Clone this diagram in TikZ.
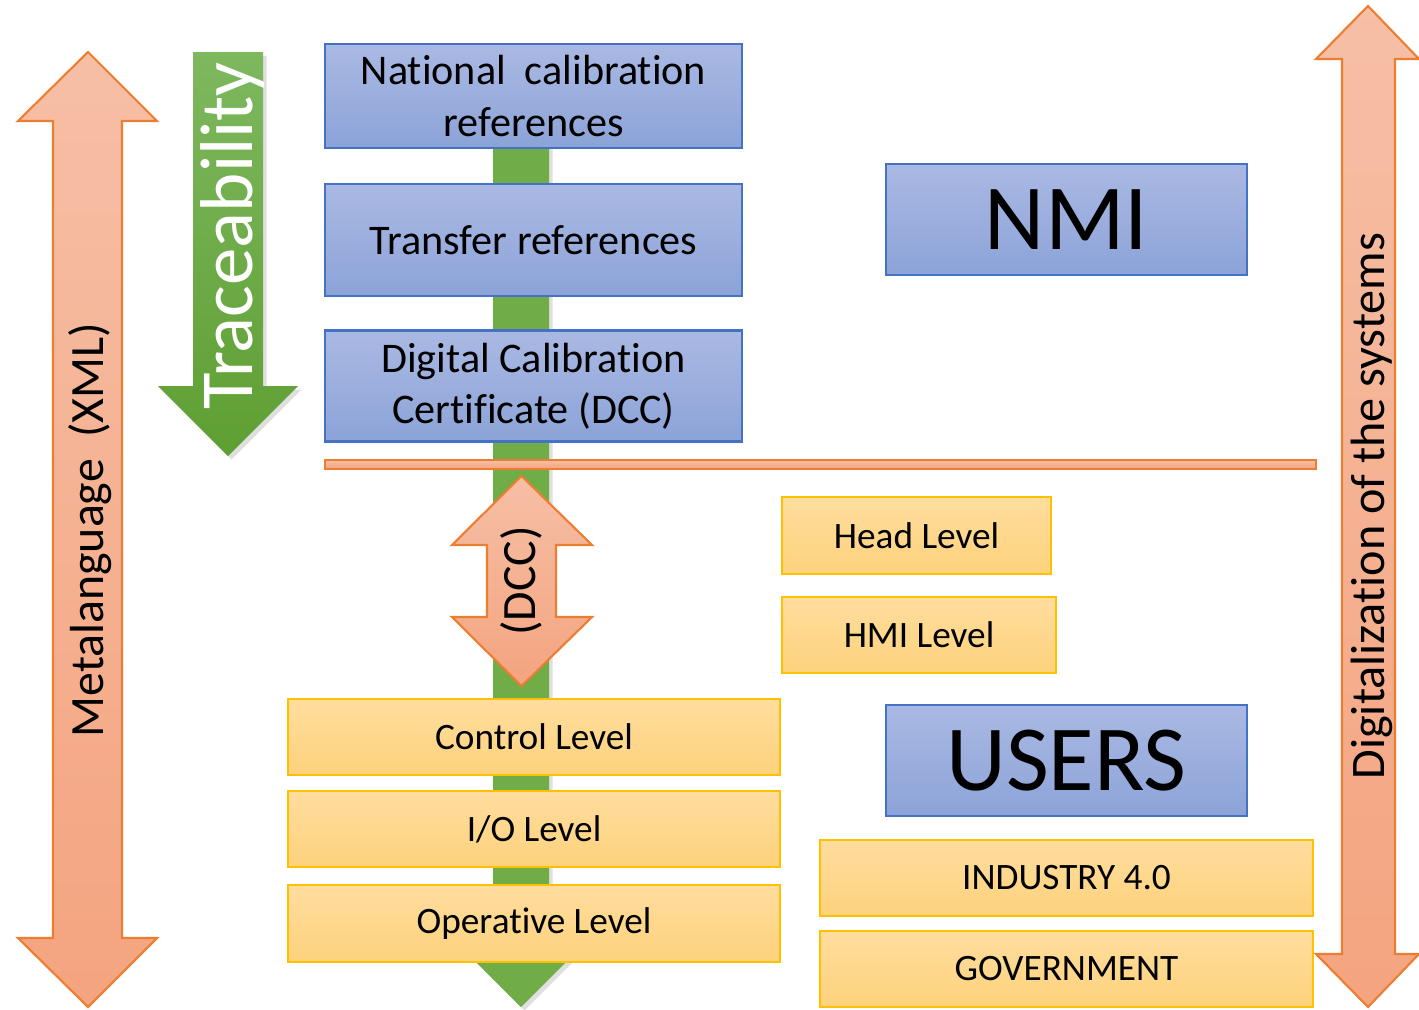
\documentclass[tikz,border=0pt]{standalone}
\usepackage{fontspec}
\setmainfont{Carlito}[Ligatures=NoCommon]
\usetikzlibrary{shadows}
\definecolor{nmiTop}{HTML}{AAB9E3}
\definecolor{nmiBot}{HTML}{8CA3D8}
\definecolor{nmiEdge}{HTML}{4472C4}
\definecolor{lvlTop}{HTML}{FFDD9E}
\definecolor{lvlBot}{HTML}{FDD27C}
\definecolor{lvlEdge}{HTML}{FFC000}
\definecolor{xmlTop}{HTML}{F6BFA6}
\definecolor{xmlBot}{HTML}{F4A47F}
\definecolor{xmlEdge}{HTML}{ED7D31}
\definecolor{traceTop}{HTML}{7EB85F}
\definecolor{traceBot}{HTML}{5E9F32}
\definecolor{traceBar}{HTML}{70AD47}
\tikzset{
  refbox/.style={draw=nmiEdge, line width=0.6pt, top color=nmiTop, bottom color=nmiBot,
    minimum width=4.17cm, align=center, inner sep=0pt,
    font=\fontsize{12}{14.6}\selectfont},
  bigbox/.style={draw=nmiEdge, line width=0.6pt, top color=nmiTop, bottom color=nmiBot,
    minimum width=3.61cm, minimum height=1.11cm, inner sep=0pt,
    font=\fontsize{26.5}{30}\selectfont},
  lvlbox/.style={draw=lvlEdge, line width=0.6pt, top color=lvlTop, bottom color=lvlBot,
    minimum height=0.76cm, inner sep=0pt, font=\fontsize{10.6}{12}\selectfont},
  xmlarrow/.style={draw=xmlEdge, line width=0.6pt, top color=xmlTop, bottom color=xmlBot},
  tracearrow/.style={top color=traceTop, bottom color=traceBot,
    drop shadow={shadow xshift=1pt, shadow yshift=-1pt, opacity=0.25}},
  sidelbl/.style={rotate=90, inner sep=0pt, font=\fontsize{13.6}{15}\selectfont},
}

\begin{document}
\begin{tikzpicture}[x=0.01cm, y=-0.01cm]
  \useasboundingbox (0,0) rectangle (1419,1009);

  % metalanguage double arrow
  \draw[xmlarrow] (88,52) -- (157,121) -- (122,121) -- (122,938) -- (157,938)
    -- (88,1007) -- (18,938) -- (53,938) -- (53,121) -- (18,121) -- cycle;
  \node[sidelbl] (metaLbl) at (90,530) {Metalanguage\ \ (XML)};

  % traceability arrow
  \path[tracearrow] (193,52) -- (263,52) -- (263,386) -- (298,386)
    -- (228,456) -- (158,386) -- (193,386) -- cycle;
  \node[sidelbl, white, font=\fontsize{21.3}{24}\selectfont] (traceLbl) at (233,236) {Traceability};

  % green bar behind the chain
  \path[fill=traceBar, drop shadow={shadow xshift=1pt, shadow yshift=-1pt, opacity=0.25}]
    (493,100) -- (549,100) -- (549,947) -- (581,947) -- (521,1007) -- (461,947)
    -- (493,947) -- cycle;

  % calibration chain
  \node[refbox, minimum height=1.04cm] (natRef) at (533.5,96)
    {National\ \ calibration\\references};
  \node[refbox, minimum height=1.12cm] (transRef) at (533.5,240) {Transfer references};
  \node[refbox, minimum height=1.11cm] (dccBox) at (533.5,386)
    {Digital Calibration\\Certificate (DCC)};

  % NMI / users boundary
  \draw[xmlarrow] (325,460) rectangle (1316,469);

  % DCC exchange arrow
  \draw[xmlarrow] (521.5,476) -- (592,545) -- (556,545) -- (556,617) -- (592,617)
    -- (521.5,686) -- (452,617) -- (487,617) -- (487,545) -- (452,545) -- cycle;
  \node[sidelbl] (dccLbl) at (521,581) {(DCC)};

  % automation levels
  \node[lvlbox, minimum width=2.69cm, minimum height=0.77cm] (headLvl) at (916.5,535.5) {Head Level};
  \node[lvlbox, minimum width=2.74cm] (hmiLvl) at (919,635) {HMI Level};
  \node[lvlbox, minimum width=4.92cm] (ctrlLvl) at (534,737) {Control Level};
  \node[lvlbox, minimum width=4.92cm] (ioLvl) at (534,829) {I/O Level};
  \node[lvlbox, minimum width=4.92cm, minimum height=0.77cm] (opLvl) at (534,923.5) {Operative Level};

  % NMI and users
  \node[bigbox] (nmiBox) at (1066.5,219.5) {NMI};
  \node[bigbox] (usersBox) at (1066.5,760.5) {USERS};
  \node[lvlbox, minimum width=4.93cm] (industryBox) at (1066.5,878) {INDUSTRY 4.0};
  \node[lvlbox, minimum width=4.93cm] (govBox) at (1066.5,969) {GOVERNMENT};

  % digitalization double arrow
  \draw[xmlarrow] (1368,6) -- (1419,59) -- (1395,59) -- (1395,954) -- (1419,954)
    -- (1368,1007) -- (1316,954) -- (1342,954) -- (1342,59) -- (1316,59) -- cycle;
  \node[sidelbl, font=\fontsize{13.7}{15}\selectfont] (digiLbl) at (1372,506) {Digitalization of the systems};
\end{tikzpicture}
\end{document}
